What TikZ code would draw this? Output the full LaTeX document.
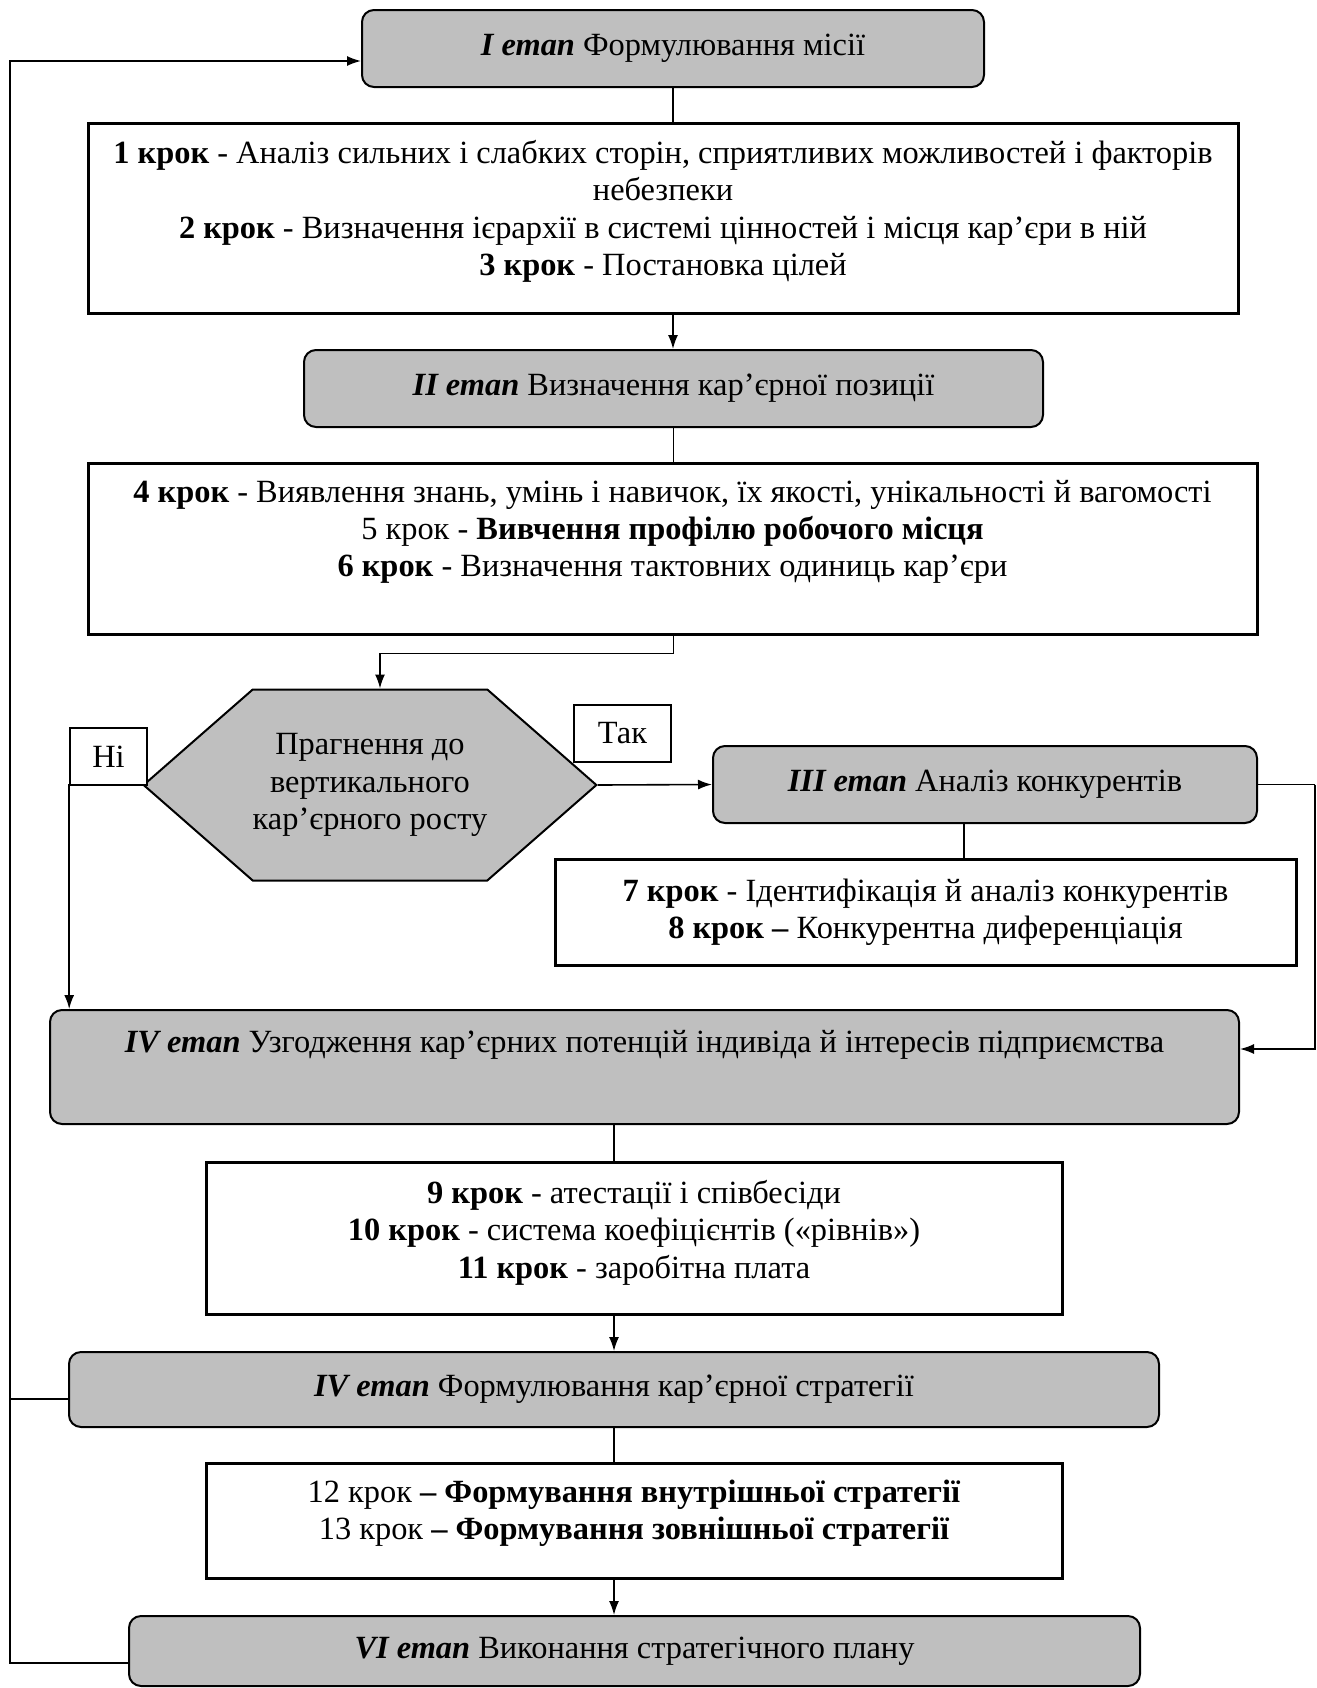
\documentclass[tikz,border=0pt]{standalone}
\usepackage{fontspec}
\setmainfont{Liberation Serif}
\usetikzlibrary{arrows.meta}
\usetikzlibrary{shapes.symbols}
\newdimen\px \px=0.5pt
\newcommand{\toptext}[4]{\begin{minipage}[c][#2\px][t]{#1\px}\centering\vspace*{#3\px}#4\end{minipage}}

\begin{document}
\begin{tikzpicture}[x=0.5pt, y=-0.5pt, >={Latex[length=7pt,width=5pt]}, line width=0.8pt,
  font=\fontsize{16.2}{18.7}\selectfont,
  etap/.style={draw, rounded corners=12\px, fill=black!25, line width=1pt, inner sep=0pt, align=center},
  kroky/.style={draw, line width=1.5pt, fill=white, inner sep=0pt, align=center},
  answer/.style={draw, line width=0.8pt, fill=white, inner sep=0pt}]
\useasboundingbox (0,0) rectangle (1317,1688);
\node[etap, minimum width=622\px, minimum height=77\px] (I) at (673,48.5) {\textbf{\textit{I етап}} Формулювання місії};
\node[kroky] (s1) at (663,218) {\toptext{1150}{190}{17}{\textbf{1 крок} - Аналіз сильних і слабких сторін, сприятливих можливостей і факторів\\небезпеки\\\textbf{2 крок} - Визначення ієрархії в системі цінностей і місця кар’єри в ній\\\textbf{3 крок} - Постановка цілей}};
\node[etap, minimum width=739\px, minimum height=77\px] (II) at (673.5,388.5) {\textbf{\textit{II етап}} Визначення кар’єрної позиції};
\node[kroky] (s2) at (672.5,548.5) {\toptext{1169}{171}{17}{\textbf{4 крок} - Виявлення знань, умінь і навичок, їх якості, унікальності й вагомості\\5 крок - \textbf{Вивчення профілю робочого місця}\\\textbf{6 крок} - Визначення тактовних одиниць кар’єри}};
\node[signal, signal from=nowhere, signal to=west and east, signal pointer angle=82.4, draw, fill=black!25, line width=1pt,
  minimum width=446\px, minimum height=191\px, inner sep=0pt, align=center] (q) at (370,785) {Прагнення до\\вертикального\\кар’єрного росту};
\node[answer, minimum width=77\px, minimum height=57\px] (no) at (108.5,756.5) {Ні};
\node[answer, minimum width=97\px, minimum height=57\px] (yes) at (622.5,733.5) {Так};
\node[etap, minimum width=544\px, minimum height=77\px] (III) at (985,784.5) {\textbf{\textit{III етап}} Аналіз конкурентів};
\node[kroky, minimum width=741\px, minimum height=106\px] (s3) at (925.5,912) {\textbf{7 крок} - Ідентифікація й аналіз конкурентів\\\textbf{8 крок –} Конкурентна диференціація};
\node[etap] (IV) at (644.5,1067) {\toptext{1189}{114}{20}{\textbf{\textit{IV етап}} Узгодження кар’єрних потенцій індивіда й інтересів підприємства}};
\node[kroky] (s4) at (634,1238) {\toptext{856}{152}{18}{\textbf{9 крок} - атестації і співбесіди\\\textbf{10 крок} - система коефіцієнтів («рівнів»)\\\textbf{11 крок} - заробітна плата}};
\node[etap, minimum width=1090\px, minimum height=75\px] (V) at (614,1389.5) {\textbf{\textit{IV етап}} Формулювання кар’єрної стратегії};
\node[kroky] (s5) at (634,1520.5) {\toptext{856}{115}{17}{12 крок \textbf{– Формування внутрішньої стратегії}\\13 крок \textbf{– Формування зовнішньої стратегії}}};
\node[etap, minimum width=1011\px, minimum height=70\px] (VI) at (634.5,1651) {\textbf{\textit{VI етап}} Виконання стратегічного плану};
\coordinate (loop) at (10,61);

% connectors
\draw (I.south) -- (I.south |- s1.north);
\draw[->] (I.south |- s1.south) -- (I.south |- II.north);
\draw (II.south) -- (II.south |- s2.north);
\draw[->] (II.south |- s2.south) -- ++(0,18) -| ([xshift=10\px]q.north);
\draw[->] (q.west) -| (no.south west |- IV.north);
\draw[->] (q.east) -- (III.west);
\draw (III.east) -- ++(57,0) coordinate (r);
\draw[->] (r) |- ([yshift=18\px]IV.east);
\draw ([xshift=-21\px]III.south) -- ([xshift=-21\px]III.south |- s3.north);
\draw (IV.south -| V.north) -- (V.north |- s4.north);
\draw[->] (V.north |- s4.south) -- (V.north);
\draw (V.south) -- (V.south |- s5.north);
\draw[->] (V.south |- s5.south) -- (V.south |- VI.north);
\draw ([yshift=-9.5\px]V.west) -- ([yshift=-9.5\px]V.west -| loop);
\draw[->] ([yshift=-12\px]VI.west) -| (loop) -- (loop -| I.west);
\end{tikzpicture}
\end{document}
